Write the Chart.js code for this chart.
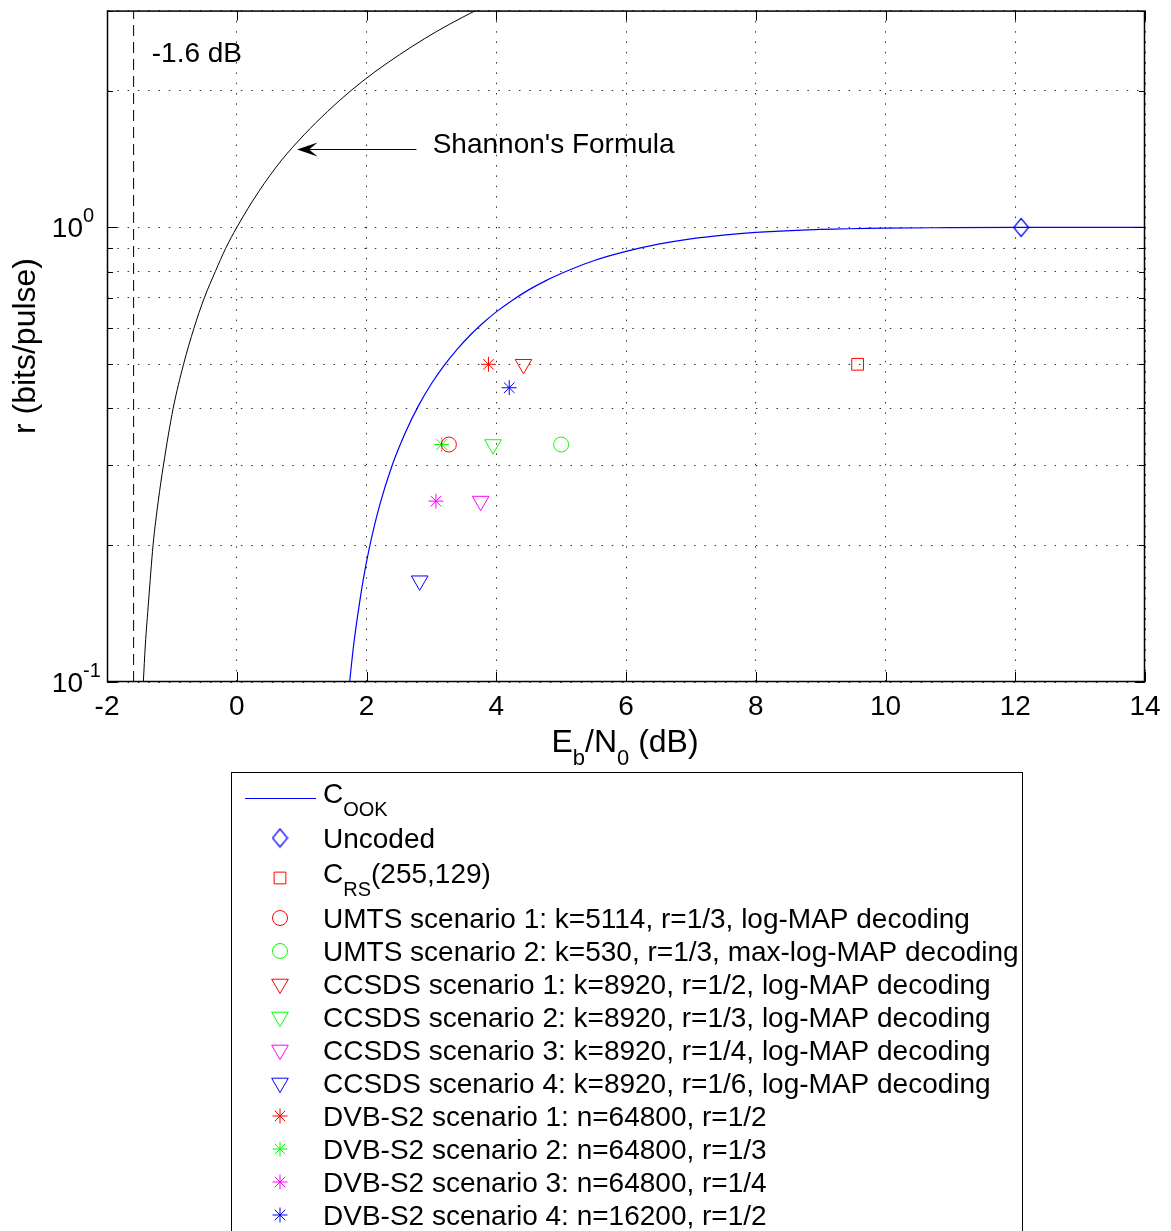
<!DOCTYPE html>
<html>
<head>
<meta charset="utf-8">
<script src="https://cdn.jsdelivr.net/npm/chart.js@4.4.1/dist/chart.umd.min.js"></script>
<style>
  html, body { margin: 0; padding: 0; background: #fff; }
  canvas { display: block; }
</style>
</head>
<body>
<canvas id="chart" width="1171" height="1231"></canvas>
<script>
// Eb/N0 (dB) needed for a rate r (bits/pulse)
const shannonEbN0 = [-1.44, -1.41, -1.36, -1.29, -1.21, -1.13, -0.98, -0.82, -0.66, -0.50, -0.33, -0.17, 0.00,
                     0.34, 0.68, 1.04, 1.40, 1.76, 2.13, 2.51, 2.89, 3.28, 3.68];
const shannonRate = [0.10, 0.12, 0.15, 0.20, 0.25, 0.30, 0.40, 0.50, 0.60, 0.70, 0.80, 0.90, 1.00,
                     1.20, 1.40, 1.60, 1.80, 2.00, 2.20, 2.40, 2.60, 2.80, 3.00];

const ookEbN0 = [1.74, 1.80, 1.87, 1.95, 2.04, 2.20, 2.40, 2.60, 2.80, 3.00, 3.20, 3.40, 3.60, 3.80, 4.00,
                 4.25, 4.50, 4.75, 5.00, 5.50, 6.00, 6.50, 7.00, 7.50, 8.00, 9.00, 10.00, 11.00, 12.00, 13.00, 14.00];
const ookRate = [0.100, 0.120, 0.142, 0.168, 0.196, 0.244, 0.301, 0.354, 0.405, 0.453, 0.498, 0.540, 0.580, 0.617, 0.652,
                 0.692, 0.729, 0.762, 0.792, 0.845, 0.886, 0.919, 0.944, 0.962, 0.975, 0.990, 0.997, 0.999, 1.000, 1.000, 1.000];

const limitEbN0 = -1.59;

const schemeNames = [
  'Uncoded',
  'C_{RS}(255,129)',
  'UMTS scenario 1: k=5114, r=1/3, log-MAP decoding',
  'UMTS scenario 2: k=530, r=1/3, max-log-MAP decoding',
  'CCSDS scenario 1: k=8920, r=1/2, log-MAP decoding',
  'CCSDS scenario 2: k=8920, r=1/3, log-MAP decoding',
  'CCSDS scenario 3: k=8920, r=1/4, log-MAP decoding',
  'CCSDS scenario 4: k=8920, r=1/6, log-MAP decoding',
  'DVB-S2 scenario 1: n=64800, r=1/2',
  'DVB-S2 scenario 2: n=64800, r=1/3',
  'DVB-S2 scenario 3: n=64800, r=1/4',
  'DVB-S2 scenario 4: n=16200, r=1/2'
];
const schemeEbN0 = [12.09, 9.57, 3.27, 5.00, 4.42, 3.95, 3.76, 2.82, 3.88, 3.16, 3.07, 4.20];
const schemeRate = [1.000, 0.500, 0.333, 0.333, 0.500, 0.333, 0.250, 0.167, 0.500, 0.333, 0.250, 0.444];

const xTicks = [-2, 0, 2, 4, 6, 8, 10, 12, 14];
const yTicks = [0.1, 0.2, 0.3, 0.4, 0.5, 0.6, 0.7, 0.8, 0.9, 1, 2, 3];

// marker look for each scheme
const RED = '#ff0000', GREEN = '#00ff00', MAGENTA = '#ff00ff', BLUE = '#0000ff';
const schemeColor = [BLUE, RED, RED, GREEN, RED, GREEN, MAGENTA, BLUE, RED, GREEN, MAGENTA, BLUE];

// tall diamond, a bit narrower than high
function diamondImage(color) {
  const c = document.createElement('canvas');
  c.width = 17; c.height = 21;
  const g = c.getContext('2d');
  g.strokeStyle = color;
  g.lineWidth = 1.2;
  g.beginPath();
  g.moveTo(8.5, 1.5); g.lineTo(16, 10.5); g.lineTo(8.5, 19.5); g.lineTo(1, 10.5);
  g.closePath();
  g.stroke();
  return c;
}

const DIAMOND = {style: diamondImage(BLUE), radius: 9, rotation: 0};
const SQUARE = {style: 'rect', radius: 8.3, rotation: 0};
const CIRCLE = {style: 'circle', radius: 7.5, rotation: 0};
const TRI_DOWN = {style: 'triangle', radius: 9.6, rotation: 180};
const STAR = {style: 'star', radius: 7.5, rotation: 0};
const schemeMarker = [DIAMOND, SQUARE, CIRCLE, CIRCLE, TRI_DOWN, TRI_DOWN, TRI_DOWN, TRI_DOWN, STAR, STAR, STAR, STAR];

const FONT = '"Liberation Sans", Arial, Helvetica, sans-serif';

const pairs = (xs, ys) => xs.map((v, i) => ({x: v, y: ys[i]}));

// text with _{sub} and ^{sup} pieces
function drawRich(ctx, str, x, y, o) {
  const parts = [];
  const re = /([_^])\{([^}]*)\}/g;
  let last = 0, m;
  while ((m = re.exec(str))) {
    if (m.index > last) parts.push({t: str.slice(last, m.index), k: ''});
    parts.push({t: m[2], k: m[1]});
    last = re.lastIndex;
  }
  if (last < str.length) parts.push({t: str.slice(last), k: ''});
  const fontOf = p => (p.k ? o.small : o.size) + 'px ' + FONT;
  let width = 0;
  parts.forEach(p => { ctx.font = fontOf(p); p.w = ctx.measureText(p.t).width; width += p.w; });
  let cx = o.align === 'center' ? x - width / 2 : (o.align === 'right' ? x - width : x);
  ctx.textAlign = 'left';
  ctx.textBaseline = 'alphabetic';
  parts.forEach(p => {
    ctx.font = fontOf(p);
    const dy = p.k === '_' ? o.drop : (p.k === '^' ? -o.rise : 0);
    ctx.fillText(p.t, cx, y + dy);
    cx += p.w;
  });
}

function marker(ctx, m, color, x, y) {
  ctx.save();
  ctx.strokeStyle = color;
  ctx.fillStyle = 'rgba(0,0,0,0)';
  ctx.lineWidth = 1;
  Chart.helpers.drawPoint(ctx, {pointStyle: m.style, radius: m.radius, rotation: m.rotation, borderWidth: 1}, x, y);
  ctx.restore();
}

const frame = {
  id: 'frame',
  afterDatasetsDraw(chart) {
    const {ctx, chartArea: a, scales: {x, y}} = chart;
    ctx.save();

    // inward tick marks on every side
    ctx.strokeStyle = '#000';
    ctx.lineWidth = 1;
    ctx.beginPath();
    xTicks.forEach(v => {
      const px = Math.round(x.getPixelForValue(v)) + 0.5;
      ctx.moveTo(px, a.bottom); ctx.lineTo(px, a.bottom - 10);
      ctx.moveTo(px, a.top); ctx.lineTo(px, a.top + 10);
    });
    yTicks.forEach(v => {
      const py = Math.round(y.getPixelForValue(v)) + 0.5;
      const len = (v === 1 || v === 0.1) ? 10 : 6;
      ctx.moveTo(a.left, py); ctx.lineTo(a.left + len, py);
      ctx.moveTo(a.right, py); ctx.lineTo(a.right - len, py);
    });
    ctx.stroke();

    ctx.lineWidth = 1.5;
    ctx.strokeRect(a.left + 0.5, a.top + 0.5, a.right - a.left - 1, a.bottom - a.top - 1);

    // decade labels on the log axis
    ctx.fillStyle = '#000';
    [[1, '0'], [0.1, '-1']].forEach(([v, p]) => {
      const py = y.getPixelForValue(v);
      ctx.font = '28px ' + FONT;
      const w = ctx.measureText('10').width;
      drawRich(ctx, '10^{' + p + '}', 83 - w, py + 10, {size: 28, small: 20, rise: 15});
    });

    // axis titles
    drawRich(ctx, 'E_{b}/N_{0} (dB)', 625, 752, {size: 32, small: 22, drop: 13, align: 'center'});
    ctx.save();
    ctx.translate(35, 346);
    ctx.rotate(-Math.PI / 2);
    drawRich(ctx, 'r (bits/pulse)', 0, 0, {size: 32, small: 22, align: 'center'});
    ctx.restore();

    // annotations
    ctx.font = '28px ' + FONT;
    ctx.textAlign = 'left';
    ctx.textBaseline = 'alphabetic';
    ctx.fillText('-1.6 dB', x.getPixelForValue(-1.31), y.getPixelForValue(2.31));

    const ay = Math.round(y.getPixelForValue(1.49)) + 0.5;
    const tipX = x.getPixelForValue(0.93);
    const tailX = x.getPixelForValue(2.77);
    ctx.lineWidth = 1;
    ctx.beginPath();
    ctx.moveTo(tailX, ay); ctx.lineTo(tipX + 10, ay);
    ctx.stroke();
    ctx.beginPath();
    ctx.moveTo(tipX, ay);
    ctx.lineTo(tipX + 20.5, ay - 7);
    ctx.lineTo(tipX + 12, ay);
    ctx.lineTo(tipX + 20.5, ay + 7);
    ctx.closePath();
    ctx.fill();
    ctx.fillText("Shannon's Formula", x.getPixelForValue(3.02), ay + 3);

    ctx.restore();
  },
  afterDraw(chart) {
    const ctx = chart.ctx;
    ctx.save();
    ctx.strokeStyle = '#000';
    ctx.lineWidth = 1;
    ctx.strokeRect(231.5, 772.5, 791, 600);

    const rows = chart.data.datasets.filter(d => d.inLegend);
    let base = 803, prevSub = false;
    rows.forEach((d, i) => {
      const sub = d.label.indexOf('_{') >= 0;
      if (i > 0) base += 33 + (prevSub ? 12 : 0) + (sub ? 2 : 0);
      const my = base - 10 + (sub ? 5 : 0);
      if (d.marker) {
        marker(ctx, d.marker, d.pointBorderColor, 280, my);
      } else {
        ctx.strokeStyle = d.borderColor;
        ctx.lineWidth = d.borderWidth;
        ctx.beginPath();
        ctx.moveTo(245, Math.round(my) + 0.5);
        ctx.lineTo(316, Math.round(my) + 0.5);
        ctx.stroke();
      }
      ctx.fillStyle = '#000';
      drawRich(ctx, d.label, 323, base, {size: 28, small: 20, drop: 13});
      prevSub = sub;
    });
    ctx.restore();
  }
};

const datasets = [
  {
    label: "Shannon's Formula",
    data: pairs(shannonEbN0, shannonRate),
    showLine: true, borderColor: '#000', borderWidth: 1, pointRadius: 0, cubicInterpolationMode: 'monotone'
  },
  {
    label: '-1.6 dB',
    data: pairs([limitEbN0, limitEbN0], [0.1, 3]),
    showLine: true, borderColor: '#000', borderWidth: 1, borderDash: [11, 6], pointRadius: 0
  },
  {
    label: 'C_{OOK}', inLegend: true,
    data: pairs(ookEbN0, ookRate),
    showLine: true, borderColor: BLUE, borderWidth: 1.2, pointRadius: 0, cubicInterpolationMode: 'monotone'
  }
].concat(schemeNames.map((name, i) => ({
  label: name, inLegend: true, marker: schemeMarker[i],
  data: [{x: schemeEbN0[i], y: schemeRate[i]}],
  showLine: false,
  pointStyle: schemeMarker[i].style,
  pointRadius: schemeMarker[i].radius,
  pointRotation: schemeMarker[i].rotation,
  pointBorderColor: schemeColor[i],
  pointBackgroundColor: 'rgba(0,0,0,0)',
  pointBorderWidth: 1
})));

new Chart(document.getElementById('chart'), {
  type: 'scatter',
  data: {datasets},
  options: {
    responsive: false,
    animation: false,
    devicePixelRatio: 1,
    events: [],
    layout: {padding: {left: 0, top: 8, right: 26, bottom: 489}},
    plugins: {legend: {display: false}, tooltip: {enabled: false}},
    scales: {
      x: {
        type: 'linear', min: -2, max: 14,
        afterBuildTicks: s => { s.ticks = xTicks.map(v => ({value: v})); },
        afterFit: s => { s.height = 60; },
        grid: {color: 'rgba(0,0,0,0.8)', lineWidth: 1, drawTicks: false},
        border: {display: false, dash: [1.5, 8.8]},
        ticks: {color: '#000', font: {family: FONT, size: 28}, padding: 8, maxRotation: 0}
      },
      y: {
        type: 'logarithmic', min: 0.1, max: 3,
        afterBuildTicks: s => { s.ticks = yTicks.map(v => ({value: v})); },
        afterFit: s => { s.width = 107; },
        grid: {color: 'rgba(0,0,0,0.8)', lineWidth: 1, drawTicks: false},
        border: {display: false, dash: [1.5, 8.8]},
        ticks: {display: false}
      }
    }
  },
  plugins: [frame]
});
</script>
</body>
</html>
